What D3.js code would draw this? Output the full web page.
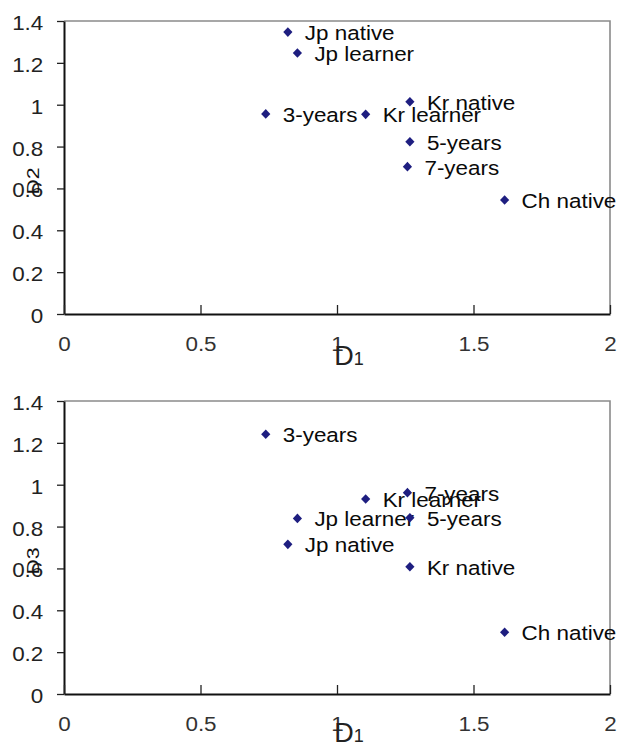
<!DOCTYPE html>
<html>
<head>
<meta charset="utf-8">
<script src="https://d3js.org/d3.v7.min.js"></script>
<style>
  html, body { margin: 0; padding: 0; background: #fff; }
  svg { display: block; }
  text { font-family: "Liberation Sans", Arial, sans-serif; }
</style>
</head>
<body>
<svg id="chart" width="620" height="743"></svg>
<script>
const names = ["Jp native", "Jp learner", "3-years", "Kr learner", "Kr native", "5-years", "7-years", "Ch native"];
const d1 = [0.820, 0.855, 0.739, 1.105, 1.267, 1.267, 1.258, 1.614];
const d2 = [1.347, 1.247, 0.956, 0.954, 1.014, 0.823, 0.704, 0.545];
const d3v = [0.715, 0.839, 1.241, 0.932, 0.608, 0.842, 0.962, 0.295];
const xTicks = [0, 0.5, 1, 1.5, 2];
const yTicks = [0, 0.2, 0.4, 0.6, 0.8, 1, 1.2, 1.4];

const svg = d3.select("#chart");
const FS = 19.5, SX = 1.15;

const x = d3.scaleLinear().domain([0, 2]).range([64, 610]);

function panel(top, bottom, yVals, yTitle) {
  const y = d3.scaleLinear().domain([0, 1.4]).range([bottom, top]);
  const g = svg.append("g");

  // gray frame (top + right)
  g.append("path")
    .attr("d", `M${x(0)},${y(1.4)}H${x(2)}V${y(0)}`)
    .attr("fill", "none").attr("stroke", "#8a8a8a").attr("stroke-width", 1.6);

  // y axis
  const ya = g.append("g").attr("transform", `translate(${x(0)},0)`)
    .call(d3.axisLeft(y).tickValues(yTicks).tickSizeInner(7).tickSizeOuter(0).tickFormat(d3.format("~g")));
  ya.select(".domain").attr("stroke", "#111").attr("stroke-width", 2);
  ya.selectAll(".tick line").attr("stroke", "#222").attr("stroke-width", 1.3);
  ya.selectAll(".tick text")
    .attr("x", 0).attr("dy", null).attr("dominant-baseline", "central")
    .attr("transform", `translate(-20.7,1.5) scale(${SX},1)`)
    .attr("font-size", FS).attr("font-family", "Liberation Sans, Arial, sans-serif")
    .attr("fill", "#222");

  // x axis
  const xa = g.append("g").attr("transform", `translate(0,${y(0)})`)
    .call(d3.axisBottom(x).tickValues(xTicks).tickSizeInner(-9).tickSizeOuter(0).tickFormat(d3.format("~g")));
  xa.select(".domain").attr("stroke", "#111").attr("stroke-width", 2);
  xa.selectAll(".tick line").attr("stroke", "#222").attr("stroke-width", 1.3);
  xa.selectAll(".tick text")
    .attr("y", 0).attr("dy", null)
    .attr("transform", `translate(0,36.5) scale(${SX},1)`)
    .attr("font-size", FS).attr("font-family", "Liberation Sans, Arial, sans-serif")
    .attr("fill", "#333");

  // axis titles
  g.append("text")
    .attr("transform", `translate(39,${top + 160}) rotate(-90) scale(1.25,1)`)
    .attr("text-anchor", "middle")
    .attr("font-size", 17).attr("fill", "#111")
    .text(yTitle);
  const xt = g.append("text")
    .attr("transform", `translate(349,${Math.min(bottom + 51, 742)})`)
    .attr("text-anchor", "middle")
    .attr("fill", "#222");
  xt.append("tspan").attr("font-size", 27).text("D");
  xt.append("tspan").attr("font-size", 18).text("1");

  // points
  const pts = g.append("g").selectAll("g").data(names.map((n, i) => ({ n, xv: d1[i], yv: yVals[i] })))
    .join("g").attr("transform", d => `translate(${x(d.xv)},${y(d.yv)})`);
  pts.append("path").attr("d", "M0,-4.8L4.6,0L0,4.8L-4.6,0Z").attr("fill", "#1e1e80");
  pts.append("text")
    .attr("transform", `translate(17,1) scale(${SX},1)`)
    .attr("dominant-baseline", "central")
    .attr("font-size", FS).attr("fill", "#0a0a0a")
    .text(d => d.n);
}

panel(21, 314, d2, "D2");
panel(401, 694, d3v, "D3");
</script>
</body>
</html>
